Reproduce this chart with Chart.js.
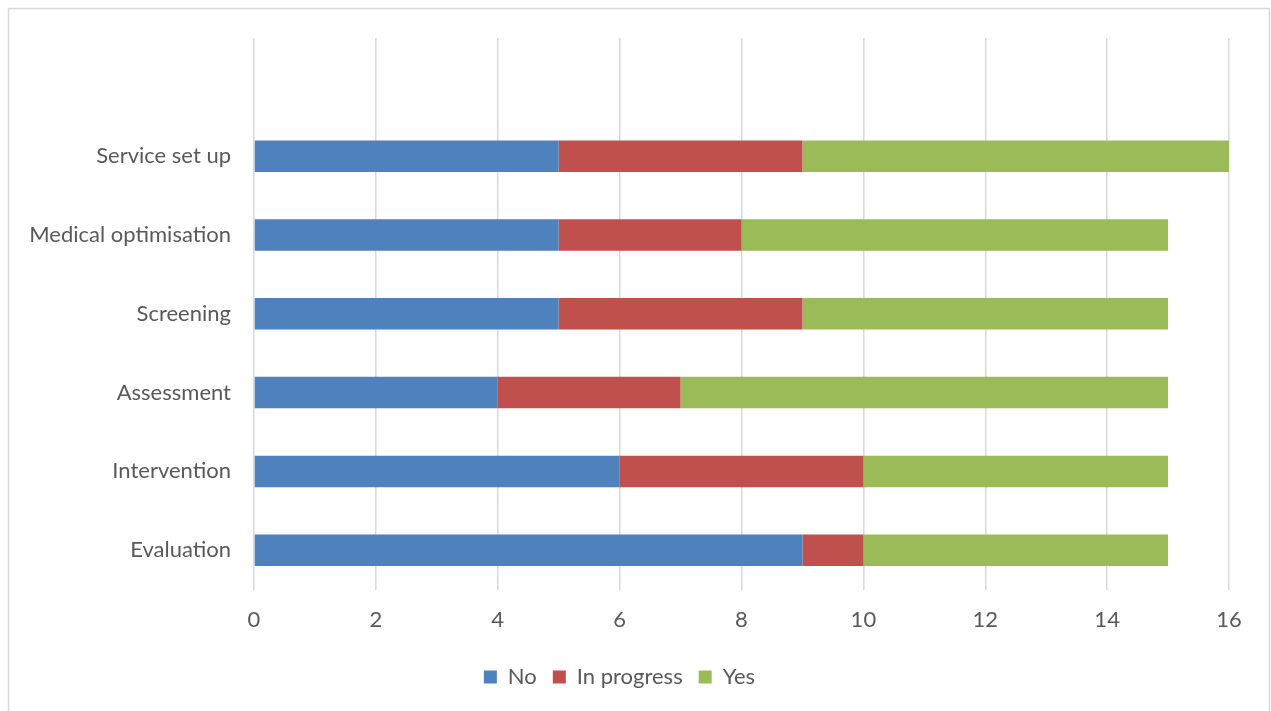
<!DOCTYPE html>
<html>
<head>
<meta charset="utf-8">
<script src="https://cdn.jsdelivr.net/npm/chart.js@4"></script>
<style>
	body { margin: 0; background: #ffffff; }
	#wrap { width: 1271px; height: 711px; }
</style>
</head>
<body>
<div id="wrap"><canvas id="myChart" width="1271" height="711"></canvas></div>
<script>
// data
const categories = ["", "Service set up", "Medical optimisation", "Screening", "Assessment", "Intervention", "Evaluation"];
const noValues = [null, 5, 5, 5, 4, 6, 9];
const inProgressValues = [null, 4, 3, 4, 3, 4, 1];
const yesValues = [null, 7, 7, 6, 8, 5, 5];
const seriesNames = ["No", "In progress", "Yes"];
const seriesColors = ["#4F81BD", "#C0504D", "#9BBB59"];

const FONT = "Lato, 'Open Sans', sans-serif";
const TEXT = "#595959";

// light frame round the whole chart
const frame = {
	id: "frame",
	beforeDraw(chart) {
		const { ctx } = chart;
		ctx.save();
		ctx.strokeStyle = "#D9D9D9";
		ctx.lineWidth = 1.5;
		ctx.beginPath();
		ctx.moveTo(8.5, 720);
		ctx.lineTo(8.5, 8.5);
		ctx.lineTo(1269.5, 8.5);
		ctx.lineTo(1269.5, 720);
		ctx.stroke();
		ctx.restore();
	},
};

const allValues = [noValues, inProgressValues, yesValues];

const data = {
	labels: categories,
	datasets: seriesNames.map((name, i) => ({
		label: name,
		data: allValues[i],
		backgroundColor: seriesColors[i],
		borderWidth: 0,
		barPercentage: 0.4,
		categoryPercentage: 1,
	})),
};

const config = {
	type: "bar",
	data: data,
	options: {
		indexAxis: "y",
		responsive: false,
		animation: false,
		layout: {
			padding: { top: 38, right: 42, left: 10, bottom: 13 },
		},
		plugins: {
			tooltip: { enabled: false },
			legend: {
				position: "bottom",
				labels: {
					boxWidth: 13,
					boxHeight: 13,
					padding: 16,
					color: TEXT,
					font: { family: FONT, size: 22 },
				},
			},
		},
		scales: {
			x: {
				stacked: true,
				min: 0,
				max: 16,
				ticks: {
					stepSize: 2,
					color: TEXT,
					padding: 17,
					font: { family: FONT, size: 22 },
				},
				grid: {
					color: "#D9D9D9",
					lineWidth: 1.5,
					drawTicks: false,
				},
				border: { display: false },
			},
			y: {
				stacked: true,
				ticks: {
					color: TEXT,
					padding: 15,
					font: { family: FONT, size: 22 },
				},
				grid: { display: false },
				border: { display: false },
				afterFit(scale) {
					scale.width = 244;
				},
			},
		},
	},
	plugins: [frame],
};

new Chart(document.getElementById("myChart"), config);
</script>
</body>
</html>
